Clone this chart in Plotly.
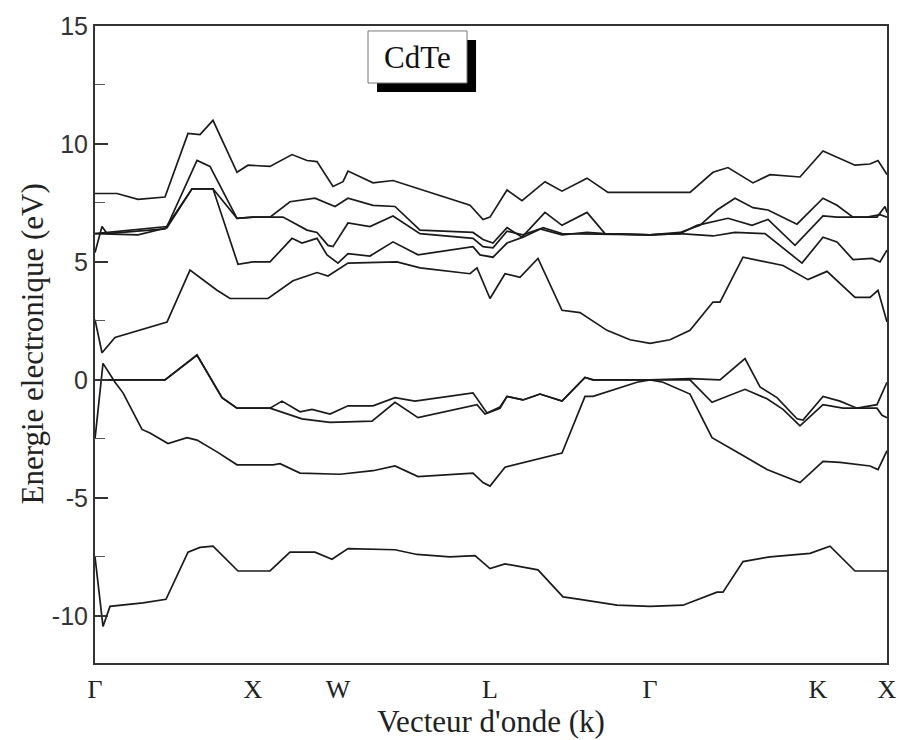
import plotly.graph_objects as go

# High-symmetry points along the k-path (arbitrary path units)
sym_labels = ["Γ", "X", "W", "L", "Γ", "K", "X"]
sym_pos = [0.0, 1.58, 2.43, 3.95, 5.55, 7.23, 7.92]

# Energy axis ticks
e_ticks = [-10, -5, 0, 5, 10, 15]
e_ticktext = ["-10", "-5", "0", "5", "10", "15"]
e_minor = [-7.5, -2.5, 2.5, 7.5, 12.5]

# Bands: k positions and energies (eV)
v1_k = [0, 0.08, 0.15, 0.48, 0.71, 0.93, 1.05, 1.18, 1.43, 1.75, 1.95, 2.20, 2.37, 2.53, 3.00, 3.22, 3.55, 3.80,
        3.95, 4.10, 4.43, 4.68, 4.85, 5.22, 5.55, 5.88, 6.22, 6.28, 6.48, 6.75, 7.15, 7.35, 7.60, 7.92]
v1_e = [-7.5, -10.45, -9.6, -9.45, -9.3, -7.3, -7.1, -7.05, -8.1, -8.1, -7.3, -7.3, -7.6, -7.15, -7.2, -7.4, -7.5, -7.45,
        -8.0, -7.8, -8.05, -9.2, -9.3, -9.55, -9.6, -9.55, -9.0, -9.0, -7.7, -7.5, -7.35, -7.05, -8.1, -8.1]

v2_k = [0, 0.08, 0.20, 0.28, 0.47, 0.55, 0.73, 0.92, 1.02, 1.22, 1.42, 1.78, 1.85, 2.05, 2.45, 2.78, 3.00, 3.23,
        3.78, 3.88, 3.95, 4.10, 4.67, 4.90, 4.98, 5.42, 5.55, 5.68, 5.95, 6.17, 6.48, 6.72, 7.05, 7.28, 7.45, 7.75,
        7.83, 7.92]
v2_e = [-2.5, 0.7, -0.1, -0.55, -2.1, -2.25, -2.7, -2.45, -2.55, -3.05, -3.6, -3.6, -3.55, -3.95, -4.0, -3.85, -3.65,
        -4.1, -3.95, -4.35, -4.5, -3.7, -3.1, -0.7, -0.7, -0.1, 0.0, -0.1, -0.6, -2.45, -3.2, -3.8, -4.35, -3.45, -3.5,
        -3.65, -3.8, -3.0]

v3_k = [0, 0.70, 1.02, 1.27, 1.42, 1.75, 2.07, 2.35, 2.77, 3.00, 3.23, 3.82, 3.90, 4.05, 4.12, 4.28, 4.45, 4.67,
        4.90, 4.98, 5.55, 5.95, 6.17, 6.50, 6.72, 6.88, 7.05, 7.28, 7.48, 7.82, 7.87, 7.92]
v3_e = [0, 0, 1.05, -0.75, -1.2, -1.2, -1.65, -1.8, -1.75, -0.95, -1.6, -1.05, -1.45, -1.2, -0.7, -0.85, -0.6, -0.9,
        0.1, 0.0, 0.0, 0.0, -0.95, -0.4, -0.8, -1.25, -1.95, -1.05, -1.2, -1.2, -1.5, -1.6]

v4_k = [0, 0.70, 1.02, 1.27, 1.42, 1.75, 1.87, 2.05, 2.17, 2.35, 2.53, 2.78, 3.00, 3.20, 3.78, 3.92, 4.05, 4.12,
        4.28, 4.45, 4.67, 4.90, 4.98, 5.55, 5.95, 6.25, 6.50, 6.65, 6.82, 7.02, 7.08, 7.28, 7.45, 7.62, 7.82, 7.92]
v4_e = [0, 0, 1.05, -0.75, -1.2, -1.2, -0.9, -1.35, -1.25, -1.45, -1.1, -1.1, -0.75, -0.9, -0.55, -1.4, -1.15, -0.7,
        -0.85, -0.6, -0.9, 0.1, 0.0, 0.0, 0.05, 0.0, 0.9, -0.3, -0.75, -1.65, -1.7, -0.7, -0.9, -1.2, -1.05, -0.1]

c1_k = [0, 0.07, 0.20, 0.72, 0.95, 1.22, 1.35, 1.73, 1.98, 2.22, 2.33, 2.53, 3.02, 3.25, 3.75, 3.82, 3.95, 4.10,
        4.25, 4.43, 4.67, 4.85, 5.12, 5.35, 5.55, 5.75, 5.95, 6.18, 6.25, 6.48, 6.88, 7.13, 7.32, 7.60, 7.75, 7.83,
        7.92]
c1_e = [2.55, 1.15, 1.8, 2.45, 4.65, 3.8, 3.45, 3.45, 4.2, 4.55, 4.4, 4.95, 5.0, 4.75, 4.5, 4.75, 3.45, 4.5, 4.35,
        5.15, 2.95, 2.85, 2.1, 1.7, 1.55, 1.7, 2.1, 3.3, 3.3, 5.2, 4.85, 4.25, 4.6, 3.5, 3.5, 3.8, 2.45]

c2_k = [0, 0.07, 0.12, 0.70, 0.97, 1.18, 1.42, 1.58, 1.88, 2.12, 2.22, 2.33, 2.38, 2.53, 2.75, 2.98, 3.25, 3.78,
        3.88, 3.98, 4.12, 4.28, 4.45, 4.67, 4.92, 5.10, 5.55, 5.85, 6.02, 6.33, 6.57, 6.73, 7.00, 7.28, 7.42, 7.72,
        7.85, 7.92]
c2_e = [5.4, 6.5, 6.2, 6.4, 8.1, 8.1, 6.85, 6.9, 6.9, 6.35, 6.25, 5.7, 5.65, 6.65, 6.5, 6.95, 6.2, 6.0, 5.65, 5.6,
        6.3, 6.15, 6.4, 6.15, 6.25, 6.2, 6.15, 6.2, 6.55, 6.85, 6.55, 6.8, 5.7, 6.95, 6.9, 6.9, 7.0, 6.9]

c3_k = [0, 0.43, 0.72, 0.97, 1.18, 1.43, 1.58, 1.75, 1.97, 2.07, 2.22, 2.32, 2.43, 2.53, 2.75, 2.98, 3.23, 3.78,
        3.85, 3.98, 4.12, 4.28, 4.48, 4.67, 5.55, 5.85, 6.18, 6.40, 6.70, 7.07, 7.28, 7.42, 7.58, 7.77, 7.85, 7.90,
        7.92]
c3_e = [6.2, 6.15, 6.45, 8.1, 8.1, 4.9, 5.0, 5.0, 6.0, 5.8, 6.0, 5.3, 4.95, 5.35, 5.25, 5.85, 5.3, 5.65, 5.3, 5.2,
        5.8, 6.05, 6.45, 6.2, 6.15, 6.2, 6.1, 6.25, 6.2, 4.95, 6.05, 5.85, 5.1, 5.15, 5.0, 5.4, 5.5]

c4_k = [0, 0.72, 1.02, 1.15, 1.42, 1.58, 1.75, 1.95, 2.20, 2.40, 2.53, 2.78, 3.00, 3.25, 3.78, 3.88, 3.98, 4.12,
        4.27, 4.50, 4.67, 4.92, 5.10, 5.55, 5.85, 6.05, 6.22, 6.40, 6.58, 6.73, 7.02, 7.28, 7.42, 7.58, 7.82, 7.90,
        7.92]
c4_e = [6.2, 6.5, 9.3, 9.05, 6.85, 6.9, 6.9, 7.55, 7.7, 7.35, 7.7, 7.4, 7.35, 6.35, 6.25, 5.95, 5.8, 6.45, 6.05,
        7.1, 6.55, 7.1, 6.2, 6.15, 6.25, 6.55, 7.2, 7.7, 7.3, 7.2, 6.6, 7.7, 7.4, 6.9, 6.9, 7.35, 7.1]

c5_k = [0, 0.22, 0.43, 0.70, 0.93, 1.05, 1.18, 1.42, 1.53, 1.75, 1.97, 2.12, 2.22, 2.38, 2.48, 2.53, 2.78, 2.98,
        3.75, 3.88, 3.95, 4.12, 4.27, 4.50, 4.67, 4.92, 5.13, 5.95, 6.18, 6.33, 6.58, 6.75, 7.05, 7.28, 7.60, 7.75,
        7.83, 7.92]
c5_e = [7.9, 7.9, 7.65, 7.75, 10.45, 10.4, 11.0, 8.8, 9.1, 9.05, 9.55, 9.3, 9.25, 8.2, 8.4, 8.85, 8.35, 8.45, 7.4,
        6.8, 6.9, 8.05, 7.6, 8.4, 8.0, 8.55, 7.95, 7.95, 8.8, 9.0, 8.35, 8.7, 8.6, 9.7, 9.1, 9.15, 9.3, 8.7]

bands = [(v1_k, v1_e), (v2_k, v2_e), (v3_k, v3_e), (v4_k, v4_e), (c1_k, c1_e),
         (c2_k, c2_e), (c3_k, c3_e), (c4_k, c4_e), (c5_k, c5_e)]

label_text = "CdTe"
x_title = "Vecteur d'onde (k)"
y_title = "Energie electronique (eV)"

fig = go.Figure()
for bk, be in bands:
    fig.add_trace(go.Scatter(x=bk, y=be, mode="lines",
                             line=dict(color="#1a1a1a", width=1.7),
                             showlegend=False, hoverinfo="skip"))

# label box with drop shadow (paper coordinates)
fig.add_shape(type="rect", xref="paper", yref="paper",
              x0=0.3561, x1=0.4811, y0=0.8964, y1=0.978,
              fillcolor="black", line=dict(width=0))
fig.add_shape(type="rect", xref="paper", yref="paper",
              x0=0.3447, x1=0.4697, y0=0.9105, y1=0.9922,
              fillcolor="white", line=dict(color="#777", width=1))
fig.add_annotation(x=0.4072, y=0.9513, xref="paper", yref="paper",
                   xanchor="center", yanchor="middle",
                   text=label_text, showarrow=False,
                   font=dict(family="Liberation Serif", size=31, color="#111"))

# vertical axis title
fig.add_annotation(x=-0.0795, y=0.5, xref="paper", yref="paper",
                   xanchor="center", yanchor="middle", textangle=-90,
                   text=y_title, showarrow=False,
                   font=dict(family="Liberation Serif", size=31, color="#222"))

fig.update_xaxes(range=[0, 7.92], tickvals=sym_pos, ticktext=sym_labels,
                 ticks="", showgrid=False, zeroline=False,
                 showline=True, linecolor="#333", linewidth=2, mirror=True,
                 tickfont=dict(family="Liberation Serif", size=26, color="#222"),
                 ticklabelstandoff=2,
                 title=dict(text=x_title, standoff=1,
                            font=dict(family="Liberation Serif", size=31, color="#222")))
fig.update_yaxes(range=[-12, 15], tickvals=e_ticks, ticktext=e_ticktext,
                 ticks="inside", ticklen=13, tickwidth=1.5, tickcolor="#333",
                 minor=dict(ticks="inside", ticklen=10, tickwidth=1.2, tickcolor="#555",
                            tickvals=e_minor),
                 showgrid=False, zeroline=False,
                 showline=True, linecolor="#333", linewidth=2, mirror=True,
                 tickfont=dict(family="Liberation Sans", size=25, color="#333"),
                 ticklabelstandoff=0)

fig.update_layout(width=901, height=740,
                  margin=dict(l=95, r=14, t=26, b=77, autoexpand=False),
                  plot_bgcolor="white", paper_bgcolor="white")

fig.write_html("out.html")
